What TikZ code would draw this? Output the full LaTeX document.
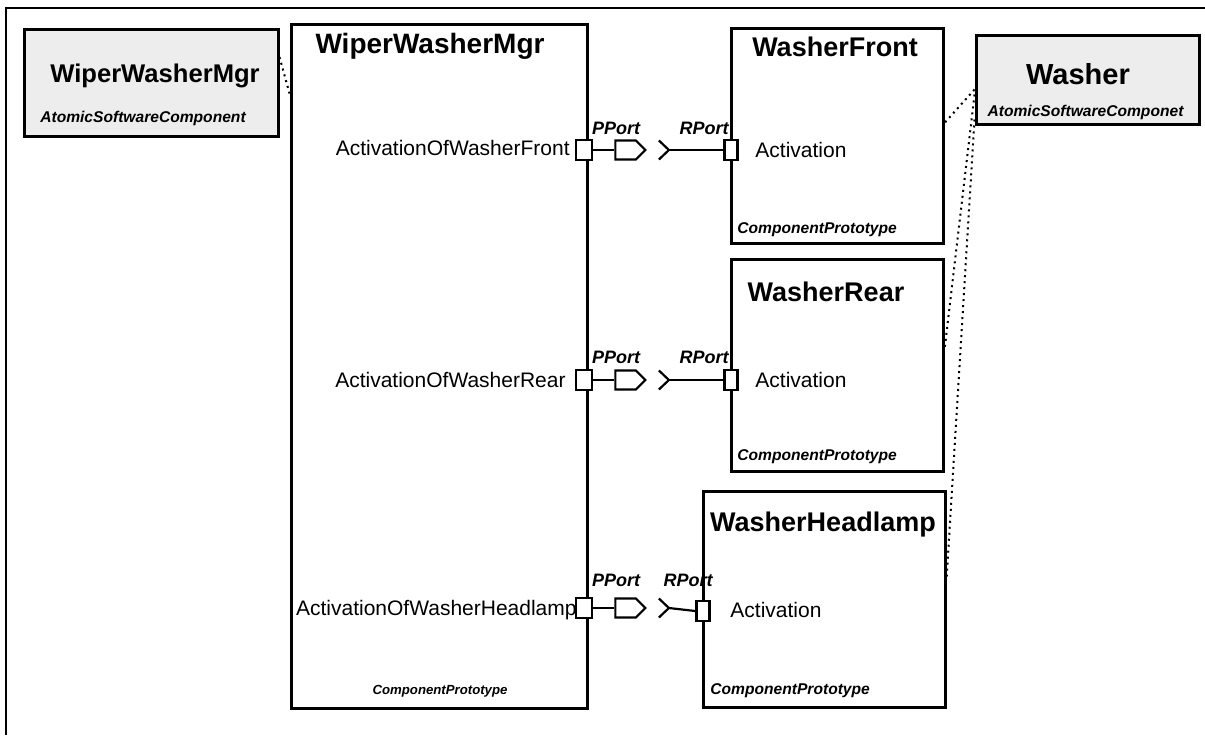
\documentclass[tikz,border=0pt]{standalone}
\usepackage{fontspec}
\setmainfont{Liberation Sans}
\usetikzlibrary{positioning, shapes.symbols}

\begin{document}
\begin{tikzpicture}[
    x=0.5pt, y=-0.5pt,
    every node/.style={inner sep=0pt},
    compbox/.style={draw, line width=1.5pt, fill=white},
    atombox/.style={draw, line width=1.5pt, fill=black!7},
    bigtitle/.style={font=\fontsize{14}{16}\selectfont\bfseries, anchor=base},
    subtitle/.style={font=\fontsize{13.5}{16}\selectfont\bfseries, anchor=base},
    stereo/.style={font=\fontsize{7.8}{9}\selectfont\bfseries\itshape, anchor=base},
    portlbl/.style={font=\fontsize{9}{11}\selectfont\bfseries\itshape, anchor=base},
    plain/.style={font=\fontsize{10.5}{12}\selectfont, anchor=base},
    pport/.style={draw, line width=1.25pt, fill=white, minimum width=8pt, minimum height=10pt},
    rport/.style={draw, line width=1.25pt, fill=white, minimum width=6.5pt, minimum height=10pt},
    provided/.style={draw, line width=1.1pt, signal, signal to=east,
                     minimum width=15pt, minimum height=9.5pt},
    wire/.style={line width=1.1pt},
    trace/.style={dotted, line width=1pt},
]
\useasboundingbox (0,0) rectangle (1205,735);

% ============ frame ============
\draw[line width=1pt] (1205,8) -- (6,8) -- (6,735);

% ============ atomic software components ============
\node[atombox, minimum width=127pt, minimum height=53.5pt] (atomwwm) at (151,82.5) {};
\node[bigtitle, font=\fontsize{12.8}{15}\selectfont\bfseries] (atomwwmname) at (155,82) {WiperWasherMgr};
\node[stereo] (atomwwmtype) at (143,122.5) {AtomicSoftwareComponent};

\node[atombox, minimum width=111.5pt, minimum height=44.5pt] (washer) at (1087.5,79.5) {};
\node[bigtitle, font=\fontsize{14.5}{17}\selectfont\bfseries] (washername) at (1078,84.5) {Washer};
\node[stereo] (washertype) at (1085.5,116.5) {AtomicSoftwareComponet};

% ============ component prototypes ============
\node[compbox, minimum width=148pt, minimum height=342pt] (mgr) at (439,366) {};
\node[bigtitle] (mgrname) at (430,53) {WiperWasherMgr};
\node[stereo, font=\fontsize{6.6}{8}\selectfont\bfseries\itshape] (mgrtype) at (440,694) {ComponentPrototype};

\node[compbox, minimum width=106pt, minimum height=107.5pt] (front) at (837,135.5) {};
\node[subtitle] (frontname) at (835,56.5) {WasherFront};
\node[stereo, anchor=base west] (fronttype) at (737,233.5) {ComponentPrototype};

\node[compbox, minimum width=106pt, minimum height=106pt] (rear) at (837,365) {};
\node[subtitle] (rearname) at (826,301.5) {WasherRear};
\node[stereo, anchor=base west] (reartype) at (737,460.5) {ComponentPrototype};

\node[compbox, minimum width=121pt, minimum height=108pt] (head) at (824,599) {};
\node[subtitle] (headname) at (823,531.5) {WasherHeadlamp};
\node[stereo, anchor=base west] (headtype) at (710,694.5) {ComponentPrototype};

% ============ type traces ============
\draw[trace] ([yshift=12.75pt]atomwwm.east) -- ([yshift=-35.5pt]mgr.north west);
\draw[trace] ([yshift=18pt]washer.south west) -- ([yshift=6.25pt]front.east);
\draw[trace] ([yshift=15.5pt]washer.south west) -- ([yshift=7.5pt]rear.east);
\draw[trace] ([yshift=3pt]washer.south west) -- ([yshift=9.5pt]head.east);

% ============ ports: front ============
\node[plain, anchor=base east] (actfront) at (570,155) {ActivationOfWasherFront};
\node[pport] (pp1) at (584,150) {};
\node[provided, right=10.5pt of pp1] (pv1) {};
\coordinate[right=11pt of pv1] (rq1);
\node[rport] (rp1) at (731,150) {};
\node[plain, anchor=base west] (actf) at (755,157) {Activation};
\node[portlbl] (pplbl1) at (616,134.5) {PPort};
\node[portlbl] (rplbl1) at (704,134.5) {RPort};
\draw[wire] (pp1) -- (pv1);
\draw[wire] ([shift={(-5pt,4.75pt)}]rq1) -- (rq1) -- ([shift={(-5pt,-4.75pt)}]rq1);
\draw[wire] (rq1) -- (rp1.west);

% ============ ports: rear ============
\node[plain, anchor=base east] (actrear) at (566,387) {ActivationOfWasherRear};
\node[pport] (pp2) at (584,380) {};
\node[provided, right=10.5pt of pp2] (pv2) {};
\coordinate[right=11pt of pv2] (rq2);
\node[rport] (rp2) at (731,380) {};
\node[plain, anchor=base west] (actr) at (755,387) {Activation};
\node[portlbl] (pplbl2) at (616,363.5) {PPort};
\node[portlbl] (rplbl2) at (704,363.5) {RPort};
\draw[wire] (pp2) -- (pv2);
\draw[wire] ([shift={(-5pt,4.75pt)}]rq2) -- (rq2) -- ([shift={(-5pt,-4.75pt)}]rq2);
\draw[wire] (rq2) -- (rp2.west);

% ============ ports: headlamp ============
\node[plain, anchor=base east] (acthead) at (577,615) {ActivationOfWasherHeadlamp};
\node[pport] (pp3) at (584,608) {};
\node[provided, right=10.5pt of pp3] (pv3) {};
\coordinate[right=11pt of pv3] (rq3);
\node[rport] (rp3) at (703,611) {};
\node[plain, anchor=base west] (acth) at (730,617) {Activation};
\node[portlbl] (pplbl3) at (616,586.5) {PPort};
\node[portlbl] (rplbl3) at (688,586.5) {RPort};
\draw[wire] (pp3) -- (pv3);
\draw[wire] ([shift={(-5pt,4.75pt)}]rq3) -- (rq3) -- ([shift={(-5pt,-4.75pt)}]rq3);
\draw[wire] (rq3) -- (rp3.west);

\end{tikzpicture}
\end{document}
